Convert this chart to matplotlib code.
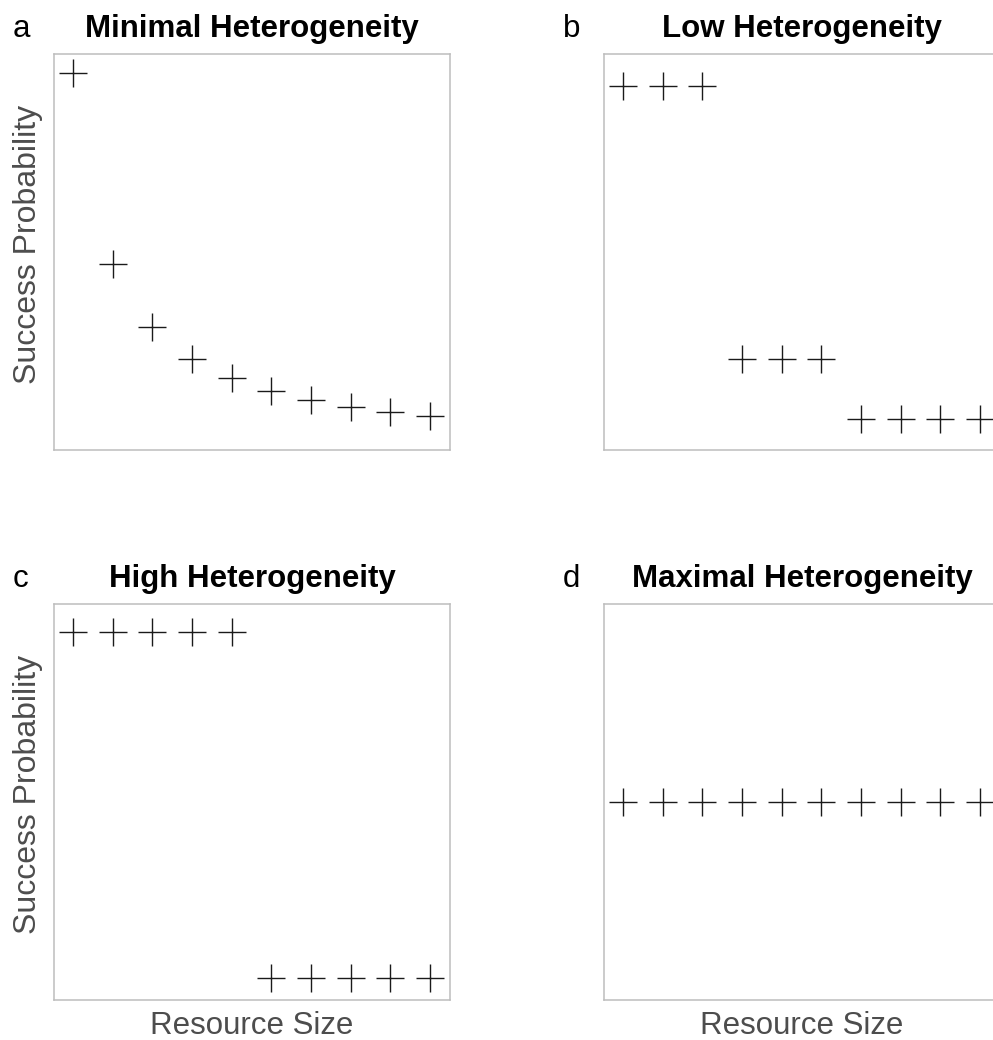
"""Four panels of success probability against resource size, one per heterogeneity level."""

import matplotlib
matplotlib.use("Agg")
import matplotlib.pyplot as plt

plt.rcParams["font.family"] = ["Liberation Sans", "DejaVu Sans"]

W, H = 993, 1040
DPI = 100

resource_size = [1, 2, 3, 4, 5, 6, 7, 8, 9, 10]

minimal = [1.0, 0.5, 0.333, 0.25, 0.2, 0.167, 0.143, 0.125, 0.111, 0.1]
low = [0.966, 0.966, 0.966, 0.249, 0.249, 0.249, 0.092, 0.092, 0.092, 0.092]
high = [0.977, 0.977, 0.977, 0.977, 0.977, 0.068, 0.068, 0.068, 0.068, 0.068]
maximal = [0.530] * 10

titles = ["Minimal Heterogeneity", "Low Heterogeneity",
          "High Heterogeneity", "Maximal Heterogeneity"]
letters = ["a", "b", "c", "d"]
series = [minimal, low, high, maximal]

# panel frames in pixels: (left, top); right column runs off the canvas
frames = [(54, 54), (604, 54), (54, 604), (604, 604)]
SIZE = 396

fig = plt.figure(figsize=(W / DPI, H / DPI), dpi=DPI)

for i, (vals, title, letter, (left, top)) in enumerate(
        zip(series, titles, letters, frames)):
    ax = fig.add_axes([left / W, (H - top - SIZE) / H, SIZE / W, SIZE / H])
    ax.plot(resource_size, vals, linestyle="none", marker="+",
            markersize=20, markeredgewidth=1.0, color="#1a1a1a")
    ax.set_xlim(0.52, 10.5)
    ax.set_ylim(0.011, 1.05)
    ax.set_xticks([])
    ax.set_yticks([])
    for sp in ax.spines.values():
        sp.set_color("#bdbdbd")
        sp.set_linewidth(1.1)
    ax.set_title(title, fontsize=22.5, fontweight="bold", pad=12)
    if i % 2 == 0:
        ax.set_ylabel("Success Probability", fontsize=23, color="#4d4d4d")
        ax.yaxis.set_label_coords(-0.028, 0.52)
    if i >= 2:
        ax.set_xlabel("Resource Size", fontsize=22.5,
                      color="#4d4d4d", labelpad=8)
    fig.text((left - 41) / W, 1 - (top - 17) / H, letter,
             fontsize=22.5, va="baseline", ha="left")

fig.savefig("out.png", dpi=DPI)
